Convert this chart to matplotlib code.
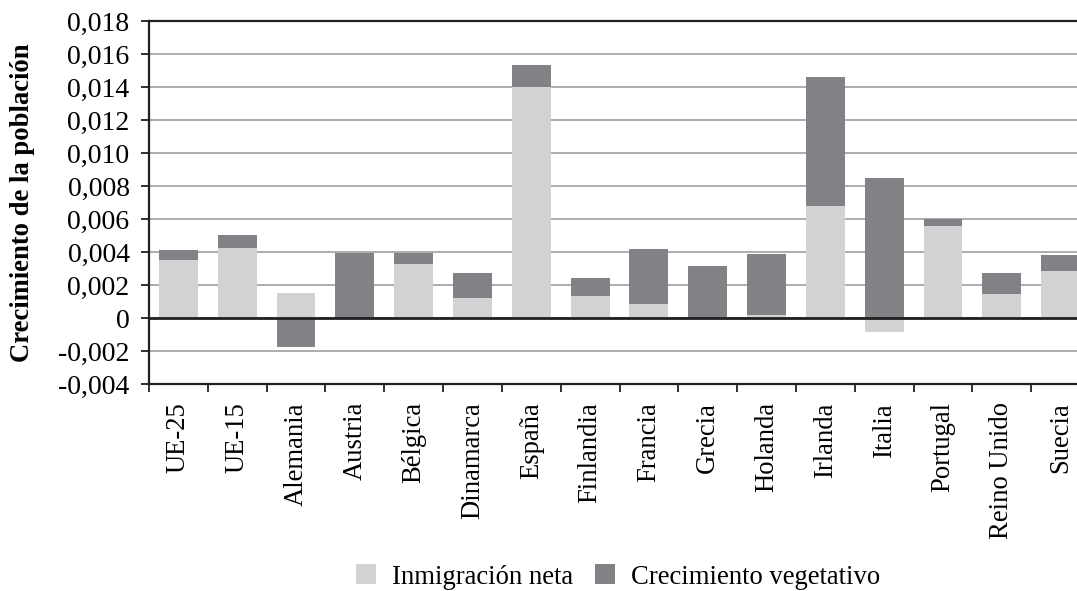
import matplotlib
matplotlib.use("Agg")
import matplotlib.pyplot as plt
import numpy as np
from matplotlib.patches import Patch

plt.rcParams['font.family'] = ['Liberation Serif', 'DejaVu Serif']

categories = ["UE-25", "UE-15", "Alemania", "Austria", "Bélgica", "Dinamarca",
              "España", "Finlandia", "Francia", "Grecia", "Holanda", "Irlanda",
              "Italia", "Portugal", "Reino Unido", "Suecia"]
inmigracion = [0.00354, 0.00426, 0.00154, 0.0, 0.00329, 0.00123,
               0.01402, 0.00135, 0.00087, 0.0, 0.00020, 0.00681,
               -0.00083, 0.00560, 0.00147, 0.00287]
vegetativo = [0.00060, 0.00079, -0.00174, 0.00394, 0.00065, 0.00152,
              0.00133, 0.00109, 0.00333, 0.00317, 0.00370, 0.00782,
              0.00851, 0.00042, 0.00128, 0.00097]
yticks = [-0.004, -0.002, 0, 0.002, 0.004, 0.006, 0.008, 0.010,
          0.012, 0.014, 0.016, 0.018]
series_names = ["Inmigración neta", "Crecimiento vegetativo"]

c_light = "#d1d2d4"
c_dark = "#818286"
fs = 19.2

fig = plt.figure(figsize=(10.77, 5.91), dpi=100)
ax = fig.add_axes([149/1077, 207/591, (1090-149)/1077, 363/591])

x = np.arange(len(categories))
inm = np.array(inmigracion)
veg = np.array(vegetativo)
bottom_veg = np.where((inm > 0) & (veg > 0), inm, 0.0)
bottom_veg = np.where((inm < 0) & (veg < 0), inm, bottom_veg)

w = 0.66
ax.bar(x, inm, width=w, color=c_light, zorder=3, linewidth=0)
ax.bar(x, veg, width=w, bottom=bottom_veg, color=c_dark, zorder=3, linewidth=0)

ax.set_xlim(-0.5, len(categories) - 0.5)
ax.set_ylim(-0.004, 0.018)
ax.set_yticks(yticks)
ax.set_yticklabels([("0" if v == 0 else f"{v:.3f}".replace(".", ",")) for v in yticks])
ax.yaxis.grid(True, color="#a6a6a8", linewidth=1.3, zorder=1)
ax.axhline(0, color="#231f20", linewidth=2, zorder=4)

ax.set_xticks(x)
ax.set_xticklabels(categories, rotation=90, fontsize=fs)
ax.set_xticks(np.arange(-0.5, len(categories)), minor=True)
ax.tick_params(axis="x", which="major", length=0, pad=13)
ax.tick_params(axis="x", which="minor", length=6, width=1.3, color="#231f20", direction="out")
ax.tick_params(axis="y", length=6, width=1.3, color="#231f20", direction="out",
               labelsize=20, pad=8)

for s in ["left", "bottom", "top"]:
    ax.spines[s].set_color("#231f20")
    ax.spines[s].set_linewidth(1.6)
ax.spines["right"].set_visible(False)

ax.set_ylabel("Crecimiento de la población", fontsize=fs, fontweight="bold")
ax.yaxis.set_label_coords(-(149 - 35) / (1090 - 149), 0.5)

handles = [Patch(facecolor=c_light, edgecolor="none"),
           Patch(facecolor=c_dark, edgecolor="none")]
fig.legend(handles, series_names, loc="center", bbox_to_anchor=(618/1077, 1 - 577/591),
           ncol=2, frameon=False, fontsize=fs, handlelength=0.75, handleheight=0.75,
           handletextpad=0.6, columnspacing=0.8)

fig.savefig("out.png", dpi=100)
